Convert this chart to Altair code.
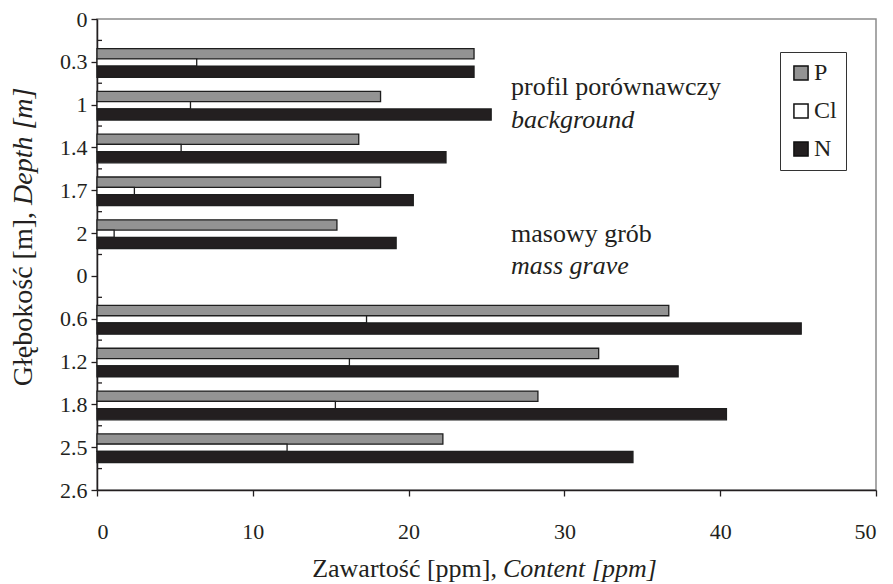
import json
import altair as alt
import pandas as pd

# ---- data ----
depth_labels = ["0", "0.3", "1", "1.4", "1.7", "2", "0", "0.6", "1.2", "1.8", "2.5", "2.6"]
P_values = [None, 24.2, 18.2, 16.8, 18.2, 15.4, None, 36.7, 32.2, 28.3, 22.2, None]
Cl_values = [None, 6.4, 6.0, 5.4, 2.4, 1.1, None, 17.3, 16.2, 15.3, 12.2, None]
N_values = [None, 24.2, 25.3, 22.4, 20.3, 19.2, None, 45.2, 37.3, 40.4, 34.4, None]
series_names = ["P", "Cl", "N"]
series_fill = ["#939393", "#ffffff", "#231f20"]
x_ticks = [0, 10, 20, 30, 40, 50]
annotations = ["profil porównawczy", "background", "masowy grób", "mass grave"]
x_title = ["Zawartość [ppm],", "Content [ppm]"]
y_title = ["Głębokość [m],", "Depth [m]"]

rows = []
for name, vals in zip(series_names, [P_values, Cl_values, N_values]):
    for i, v in enumerate(vals):
        if v is not None:
            rows.append({"idx": i, "series": name, "value": v})
df = pd.DataFrame(rows)

FONT = "'Liberation Serif', 'Times New Roman', 'DejaVu Serif', serif"
FS_TICK = 22
FS_TITLE = 26
FS_YTITLE = 28
FS_LEG = 24
INK = "#231f20"
W, H = 779, 471

label_expr = json.dumps(depth_labels) + "[round(datum.value)]"

yscale = alt.Scale(domain=[0, len(depth_labels) - 1], reverse=True, nice=False, zero=False)
xscale = alt.Scale(domain=[0, 50], nice=False)

bars = alt.Chart(df).transform_calculate(
    lo="datum.idx + (datum.series == 'P' ? -0.31 : datum.series == 'Cl' ? -0.07 : 0.10)",
    hi="datum.idx + (datum.series == 'P' ? -0.07 : datum.series == 'Cl' ? 0.10 : 0.36)",
    zero="0",
).mark_rect(stroke="#1e1e1e", strokeWidth=1.3).encode(
    x=alt.X("zero:Q", scale=xscale, axis=alt.Axis(
        values=x_ticks, title=None, grid=False, domainColor=INK, domainWidth=1.5,
        tickColor=INK, tickWidth=1.3, tickSize=6, labelFont=FONT, labelFontSize=FS_TICK,
        labelColor=INK, labelPadding=25)),
    x2="value:Q",
    y=alt.Y("lo:Q", scale=yscale, axis=alt.Axis(
        values=list(range(len(depth_labels))), labelExpr=label_expr, title=None, grid=False,
        domainColor=INK, domainWidth=1.5, tickColor=INK, tickWidth=1.3, tickSize=6,
        labelFont=FONT, labelFontSize=FS_TICK, labelColor=INK, labelPadding=4)),
    y2="hi:Q",
    fill=alt.Fill("series:N", scale=alt.Scale(domain=series_names, range=series_fill),
                  sort=series_names,
                  legend=alt.Legend(title=None, orient="none", legendX=683, legendY=33,
                                    strokeColor="#333", padding=9, symbolType="square",
                                    symbolSize=200, symbolStrokeColor="#111",
                                    symbolStrokeWidth=1.5, labelFont=FONT, labelFontSize=FS_LEG,
                                    labelColor=INK, rowPadding=14, labelOffset=1,
                                    symbolOpacity=1)),
)

minor = alt.Chart(pd.DataFrame({"m": [i + 0.5 for i in range(len(depth_labels) - 1)]})).mark_rule(
    color=INK, strokeWidth=1.3).encode(
    y=alt.Y("m:Q", scale=yscale), x=alt.value(0), x2=alt.value(5))


def txt(s, x, y, italic=False, align="left", angle=0, size=FS_TITLE):
    props = dict(font=FONT, fontSize=size, color=INK, align=align, baseline="alphabetic")
    if italic:
        props["fontStyle"] = "italic"
    if angle:
        props["angle"] = angle
    return alt.Chart(pd.DataFrame({"t": [s]})).mark_text(**props).encode(
        x=alt.value(x), y=alt.value(y), text="t:N")


texts = [
    txt(annotations[0], 414, 76),
    txt(annotations[1], 414, 109, italic=True),
    txt(annotations[2], 414, 223),
    txt(annotations[3], 414, 255, italic=True),
    txt(x_title[0], 400, 558, align="right"),
    txt(x_title[1], 406, 558, italic=True),
    txt(y_title[0], -65, 193, align="right", angle=270, size=FS_YTITLE),
    txt(y_title[1], -65, 186, italic=True, angle=270, size=FS_YTITLE),
]

chart = alt.layer(bars, minor, *texts).properties(
    width=W, height=H,
    autosize=alt.AutoSizeParams(type="none"),
    padding={"left": 89, "top": 11, "right": 9, "bottom": 94},
).configure_view(stroke="#8c8c8c", strokeWidth=1.5)

chart.save("out.html", embed_options={"renderer": "svg", "actions": False})
